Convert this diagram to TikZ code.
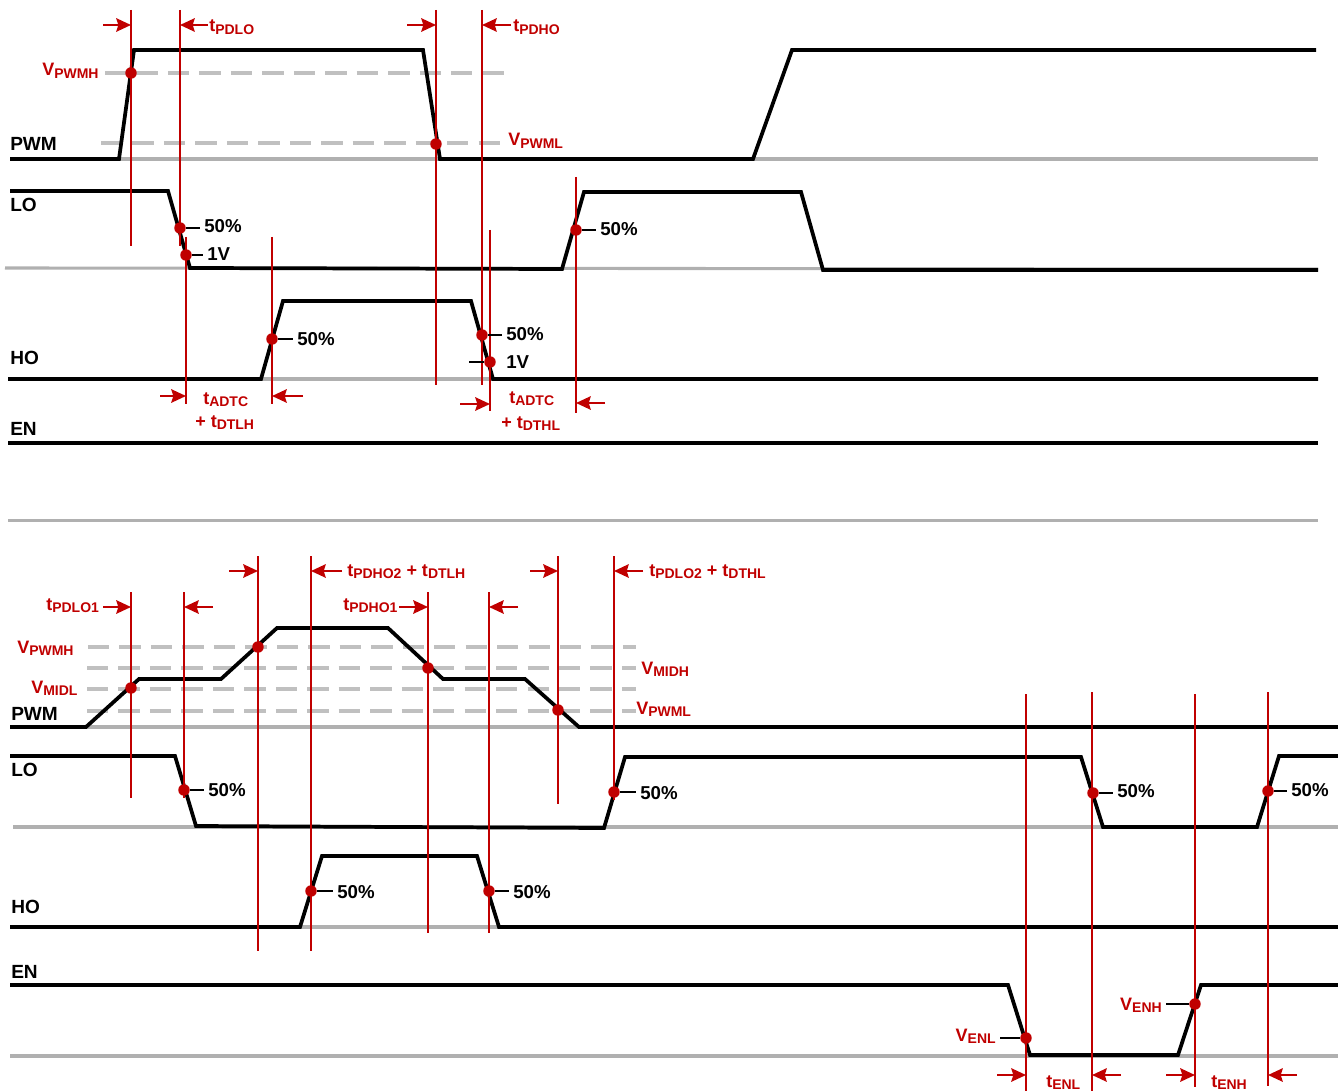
\documentclass[tikz,border=0pt]{standalone}
\usepackage{fontspec}
\usepackage{xcolor}
\usepackage{tikz}
\usetikzlibrary{arrows.meta}
\setmainfont{Liberation Sans}
\definecolor{tired}{RGB}{192,0,0}
\definecolor{tigray}{RGB}{176,176,176}
\definecolor{tidash}{RGB}{192,192,192}
\newcommand{\lowsub}[1]{\raisebox{-2.2pt}{\fontsize{10.5}{12}\selectfont #1}}
\tikzset{
	trace/.style={line width=2.8pt,black,line join=miter},
	baseline/.style={line width=2.3pt,tigray},
	vthresh/.style={line width=2.8pt,tidash,dash pattern=on 16pt off 7.6pt},
	edgeline/.style={line width=2.1pt,tired},
	timearrow/.style={line width=2pt,tired,-{Stealth[length=11pt,width=10pt,inset=1.5pt]}},
	leader/.style={line width=2pt,black},
	dot/.style={circle,fill=tired,inner sep=0pt,minimum size=8.6pt},
	siglabel/.style={anchor=base west,inner sep=0pt,font=\fontsize{14.3}{16}\selectfont\bfseries,black},
	pctlabel/.style={anchor=base west,inner xsep=3pt,inner ysep=0pt,font=\fontsize{14}{16}\selectfont\bfseries,black},
	redlabel/.style={anchor=base west,inner sep=0pt,font=\fontsize{13.5}{16}\selectfont\bfseries,tired},
}
\begin{document}
\begin{tikzpicture}[x=0.75pt,y=0.75pt,yscale=-1,xscale=1]
	\useasboundingbox (0,0) rectangle (1338,1091);

	%Grey base lines
	\draw [baseline] (10,159) -- (1318,159);
	\draw [baseline] (5,268) -- (1318,269);
	\draw [baseline] (8,379) -- (1318,379);
	\draw [baseline] (8,520.5) -- (1318,520.5);
	\draw [baseline] (12,727) -- (1338,727);
	\draw [baseline] (13,827) -- (1338,827);
	\draw [baseline] (10,927) -- (1338,927);
	\draw [baseline] (10,1056) -- (1338,1056);

	%Threshold levels
	\draw [vthresh] (105,73) -- (506,73);
	\draw [vthresh] (101,143) -- (503,143);
	\draw [vthresh] (88,647) -- (636,647);
	\draw [vthresh] (87,668) -- (636,668);
	\draw [vthresh] (87,689) -- (636,689);
	\draw [vthresh] (87,711) -- (636,711);

	%Upper traces
	\draw [trace] (10,159) -- (119,159) -- (134,50) -- (423,50) -- (440,159) -- (753,159) -- (792,50) -- (1316,50);
	\draw [trace] (10,191) -- (168,191) -- (190,268) -- (562,269) -- (584,192) -- (801,192) -- (823,270) -- (1318,270);
	\draw [trace] (8,379) -- (261,379) -- (283,301) -- (471,301) -- (493,379) -- (1318,379);
	\draw [trace] (8,443) -- (1318,443);

	%Lower traces
	\draw [trace] (10,727) -- (86,727) -- (139,679) -- (221,679) -- (277,628) -- (388,628) -- (443,679) -- (525,679) -- (579,727) -- (1338,727);
	\draw [trace] (10,756) -- (175,756) -- (196,826) -- (604,828) -- (625,757) -- (1081,757) -- (1103,827) -- (1257,827) -- (1279,756) -- (1338,756);
	\draw [trace] (10,927) -- (300,927) -- (322,856) -- (477,856) -- (499,927) -- (1338,927);
	\draw [trace] (10,985) -- (1008,985) -- (1030,1055) -- (1178,1055) -- (1201,985) -- (1338,985);

	%Upper edge markers
	\draw [edgeline] (131,10) -- (131,246);
	\draw [edgeline] (180,10) -- (180,246);
	\draw [edgeline] (186,237) -- (186,404);
	\draw [edgeline] (272,237) -- (272,404);
	\draw [edgeline] (436,10) -- (436,385);
	\draw [edgeline] (482,10) -- (482,385);
	\draw [edgeline] (490,230) -- (490,411);
	\draw [edgeline] (576,177) -- (576,413);

	%Lower edge markers
	\draw [edgeline] (131,592) -- (131,798);
	\draw [edgeline] (184,592) -- (184,798);
	\draw [edgeline] (258,556) -- (258,951);
	\draw [edgeline] (311,556) -- (311,951);
	\draw [edgeline] (428,592) -- (428,933);
	\draw [edgeline] (489,592) -- (489,933);
	\draw [edgeline] (558,556) -- (558,804);
	\draw [edgeline] (614,556) -- (614,800);
	\draw [edgeline] (1026,694) -- (1026,1091);
	\draw [edgeline] (1092,692) -- (1092,1091);
	\draw [edgeline] (1195,694) -- (1195,1087);
	\draw [edgeline] (1268,692) -- (1268,1086);

	%Timing arrows
	\draw [timearrow] (103,25) -- (131,25);
	\draw [timearrow] (208,25) -- (180,25);
	\draw [timearrow] (407,25) -- (436,25);
	\draw [timearrow] (511,25) -- (482,25);
	\draw [timearrow] (160,396) -- (186,396);
	\draw [timearrow] (303,396) -- (272,396);
	\draw [timearrow] (460,404) -- (490,404);
	\draw [timearrow] (605,403) -- (576,403);
	\draw [timearrow] (229,571) -- (258,571);
	\draw [timearrow] (342,571) -- (311,571);
	\draw [timearrow] (530,571) -- (558,571);
	\draw [timearrow] (643,571) -- (614,571);
	\draw [timearrow] (103,607) -- (131,607);
	\draw [timearrow] (213,607) -- (184,607);
	\draw [timearrow] (399,607) -- (428,607);
	\draw [timearrow] (518,607) -- (489,607);
	\draw [timearrow] (997,1075) -- (1026,1075);
	\draw [timearrow] (1121,1075) -- (1092,1075);
	\draw [timearrow] (1166,1075) -- (1195,1075);
	\draw [timearrow] (1297,1075) -- (1268,1075);

	%Signal names
	\node [siglabel] (pwmA) at (10,151) {PWM};
	\node [siglabel] (loA) at (10,212) {LO};
	\node [siglabel] (hoA) at (10,364) {HO};
	\node [siglabel] (enA) at (10,435) {EN};
	\node [siglabel] (pwmB) at (11,720) {PWM};
	\node [siglabel] (loB) at (11,776) {LO};
	\node [siglabel] (hoB) at (11,913) {HO};
	\node [siglabel] (enB) at (11,978) {EN};

	%Red labels, upper
	\node [redlabel] (vpwmhA) at (42,76) {V\lowsub{PWMH}};
	\node [redlabel] (vpwmlA) at (508,146) {V\lowsub{PWML}};
	\node [redlabel] (tpdlo) at (209,32) {t\lowsub{PDLO}};
	\node [redlabel] (tpdho) at (513,32) {t\lowsub{PDHO}};
	\node [redlabel] (tadtcA) at (203,404) {t\lowsub{ADTC}};
	\node [redlabel] (tdtlh) at (195,427) {+ t\lowsub{DTLH}};
	\node [redlabel] (tadtcB) at (509,403) {t\lowsub{ADTC}};
	\node [redlabel] (tdthl) at (501,428) {+ t\lowsub{DTHL}};

	%Red labels, lower
	\node [redlabel] (tpdhoB) at (347,576) {t\lowsub{PDHO2} + t\lowsub{DTLH}};
	\node [redlabel] (tpdloB) at (649,576) {t\lowsub{PDLO2} + t\lowsub{DTHL}};
	\node [redlabel] (tpdloA) at (46,610) {t\lowsub{PDLO1}};
	\node [redlabel] (tpdhoA) at (343,610) {t\lowsub{PDHO1}};
	\node [redlabel] (vpwmhB) at (17,653) {V\lowsub{PWMH}};
	\node [redlabel] (vmidl) at (31,693) {V\lowsub{MIDL}};
	\node [redlabel] (vmidh) at (641,674) {V\lowsub{MIDH}};
	\node [redlabel] (vpwmlB) at (636,714) {V\lowsub{PWML}};
	\node [redlabel] (tenl) at (1046,1087) {t\lowsub{ENL}};
	\node [redlabel] (tenh) at (1211,1087) {t\lowsub{ENH}};
	\node [redlabel,anchor=base east,inner xsep=3pt] (venl) at (1000,1041) {V\lowsub{ENL}};
	\node [redlabel,anchor=base east,inner xsep=3pt] (venh) at (1166,1010) {V\lowsub{ENH}};

	%Crossing dots
	\node [dot] (dPwmH) at (131,73) {};
	\node [dot] (dPwmL) at (436,144) {};
	\node [dot] (dLoF) at (180,228) {};
	\node [dot] (dLoV) at (186,255) {};
	\node [dot] (dLoR) at (576,230) {};
	\node [dot] (dHoR) at (272,339) {};
	\node [dot] (dHoF) at (482,335) {};
	\node [dot] (dHoV) at (490,362) {};
	\node [dot] (dMidL) at (131,688) {};
	\node [dot] (dPwmHB) at (258,647) {};
	\node [dot] (dMidH) at (428,668) {};
	\node [dot] (dPwmLB) at (558,710) {};
	\node [dot] (dLoFB) at (184,790) {};
	\node [dot] (dLoRB) at (614,792) {};
	\node [dot] (dHoRB) at (311,891) {};
	\node [dot] (dHoFB) at (489,891) {};
	\node [dot] (dLoFC) at (1093,793) {};
	\node [dot] (dLoRC) at (1268,791) {};
	\node [dot] (dEnL) at (1026,1038) {};
	\node [dot] (dEnH) at (1195,1004) {};

	%Level labels
	\node [pctlabel] (pLoF) at (200,233) {50\%};
	\node [pctlabel] (pLoV) at (203,261) {1V};
	\node [pctlabel] (pLoR) at (596,236) {50\%};
	\node [pctlabel] (pHoR) at (293,345) {50\%};
	\node [pctlabel] (pHoF) at (502,340) {50\%};
	\node [pctlabel] (pHoV) at (502,368) {1V};
	\node [pctlabel] (pLoFB) at (204,796) {50\%};
	\node [pctlabel] (pLoRB) at (636,799) {50\%};
	\node [pctlabel] (pHoRB) at (333,898) {50\%};
	\node [pctlabel] (pHoFB) at (509,898) {50\%};
	\node [pctlabel] (pLoFC) at (1113,797) {50\%};
	\node [pctlabel] (pLoRC) at (1287,796) {50\%};
	\coordinate (hoStub) at (469,361);

	%Leaders
	\draw [leader] (dLoF) -- (dLoF -| pLoF.west);
	\draw [leader] (dLoV) -- (dLoV -| pLoV.west);
	\draw [leader] (dLoR) -- (dLoR -| pLoR.west);
	\draw [leader] (dHoR) -- (dHoR -| pHoR.west);
	\draw [leader] (dHoF) -- (dHoF -| pHoF.west);
	\draw [leader] (dHoV) -- (dHoV -| hoStub);
	\draw [leader] (dLoFB) -- (dLoFB -| pLoFB.west);
	\draw [leader] (dLoRB) -- (dLoRB -| pLoRB.west);
	\draw [leader] (dHoRB) -- (dHoRB -| pHoRB.west);
	\draw [leader] (dHoFB) -- (dHoFB -| pHoFB.west);
	\draw [leader] (dLoFC) -- (dLoFC -| pLoFC.west);
	\draw [leader] (dLoRC) -- (dLoRC -| pLoRC.west);
	\draw [leader] (dEnL) -- (dEnL -| venl.east);
	\draw [leader] (dEnH) -- (dEnH -| venh.east);
\end{tikzpicture}
\end{document}
